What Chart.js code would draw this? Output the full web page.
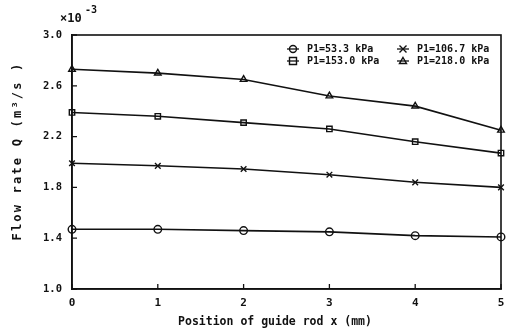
<!DOCTYPE html>
<html><head><meta charset="utf-8">
<script src="https://cdn.jsdelivr.net/npm/chart.js@4/dist/chart.umd.min.js"></script>
<style>html,body{margin:0;padding:0;background:#fff}#wrap{width:507px;height:332px}</style>
</head><body><div id="wrap"><canvas id="c" width="507" height="332"></canvas></div>
<script>
const positions = [0, 1, 2, 3, 4, 5];
const q53 = [1.47, 1.47, 1.46, 1.45, 1.42, 1.41];
const q106 = [1.99, 1.97, 1.945, 1.90, 1.84, 1.80];
const q153 = [2.39, 2.36, 2.31, 2.26, 2.16, 2.07];
const q218 = [2.73, 2.70, 2.65, 2.52, 2.44, 2.25];
const seriesLabels = ['P1=53.3 kPa', 'P1=106.7 kPa', 'P1=153.0 kPa', 'P1=218.0 kPa'];
const yTicks = [1.0, 1.4, 1.8, 2.2, 2.6, 3.0];
const xTicks = [0, 1, 2, 3, 4, 5];

const FONT = '"DejaVu Sans Mono", "Liberation Mono", monospace';
const styles = ['circle', 'crossRot', 'rect', 'triangle'];
const allData = [q53, q106, q153, q218];

const datasets = allData.map((arr, i) => ({
  label: seriesLabels[i],
  data: arr.map((v, j) => ({x: positions[j], y: v})),
  borderColor: '#111', borderWidth: 1.6,
  pointStyle: styles[i], pointRadius: i === 1 ? 4 : 3.8,
  pointBorderColor: '#111', pointBackgroundColor: 'rgba(0,0,0,0)', pointBorderWidth: 1.4,
  tension: 0, clip: false, fill: false
}));

function drawMarker(ctx, style, x, y, r) {
  ctx.save();
  ctx.strokeStyle = '#111'; ctx.lineWidth = 1.4;
  ctx.beginPath();
  if (style === 'circle') { ctx.arc(x, y, r, 0, Math.PI * 2); }
  else if (style === 'rect') { ctx.rect(x - r, y - r, 2 * r, 2 * r); }
  else if (style === 'triangle') { ctx.moveTo(x, y - r); ctx.lineTo(x + r, y + r * 0.7); ctx.lineTo(x - r, y + r * 0.7); ctx.closePath(); }
  else { ctx.moveTo(x - r, y - r); ctx.lineTo(x + r, y + r); ctx.moveTo(x + r, y - r); ctx.lineTo(x - r, y + r); }
  ctx.stroke();
  ctx.restore();
}

const decor = {
  id: 'decor',
  afterDraw(chart) {
    const ctx = chart.ctx, a = chart.chartArea;
    const xs = chart.scales.x, ys = chart.scales.y;
    ctx.save();
    ctx.strokeStyle = '#111'; ctx.lineWidth = 1.6;
    ctx.strokeRect(a.left, a.top, a.right - a.left, a.bottom - a.top);
    ctx.lineWidth = 1.3;
    ctx.beginPath();
    yTicks.forEach(v => { const y = ys.getPixelForValue(v); ctx.moveTo(a.left, y); ctx.lineTo(a.left + 5, y); });
    xTicks.forEach(v => { const x = xs.getPixelForValue(v); ctx.moveTo(x, a.bottom); ctx.lineTo(x, a.bottom - 5); });
    ctx.stroke();

    ctx.fillStyle = '#111';
    ctx.font = 'bold 12px ' + FONT;
    ctx.textAlign = 'left'; ctx.textBaseline = 'middle';
    ctx.fillText('×10', 60, 19);
    ctx.font = 'bold 10px ' + FONT;
    ctx.fillText('-3', 85, 10);

    // y title
    ctx.save();
    ctx.translate(18, 151);
    ctx.rotate(-Math.PI / 2);
    ctx.font = 'bold 12px ' + FONT;
    ctx.letterSpacing = '2.2px';
    ctx.textAlign = 'center'; ctx.textBaseline = 'middle';
    ctx.fillText('Flow rate Q (m³/s )', 0, 0);
    ctx.restore();

    // x title
    ctx.font = 'bold 11.5px ' + FONT;
    ctx.textAlign = 'center'; ctx.textBaseline = 'middle';
    ctx.fillText('Position of guide rod x (mm)', 275, 322);

    // legend
    const order = [[0, 293, 49], [1, 403, 49], [2, 293, 61], [3, 403, 61]];
    ctx.font = 'bold 10px ' + FONT;
    ctx.textAlign = 'left';
    order.forEach(([i, mx, my]) => {
      ctx.beginPath(); ctx.lineWidth = 1.3;
      ctx.moveTo(mx - 6, my); ctx.lineTo(mx + 6, my); ctx.stroke();
      drawMarker(ctx, styles[i], mx, my, 3.5);
      ctx.fillText(seriesLabels[i], mx + 14, my);
    });
    ctx.restore();
  }
};

new Chart(document.getElementById('c'), {
  type: 'line',
  data: { datasets },
  options: {
    responsive: false, animation: false, devicePixelRatio: 1,
    layout: { padding: { top: 35, right: 0, left: 0, bottom: 0 } },
    plugins: { legend: { display: false }, tooltip: { enabled: false } },
    scales: {
      x: {
        type: 'linear', min: 0, max: 5,
        afterBuildTicks: s => { s.ticks = xTicks.map(v => ({value: v})); },
        afterFit: s => { s.height = 43; s.paddingRight = 6; },
        grid: { drawOnChartArea: false, drawTicks: false },
        border: { display: true, color: '#111', width: 1.6 },
        ticks: { padding: 8, color: '#111', font: { family: FONT, weight: 'bold', size: 11 }, callback: v => String(v) }
      },
      y: {
        type: 'linear', min: 1.0, max: 3.0,
        afterBuildTicks: s => { s.ticks = yTicks.map(v => ({value: v})); },
        afterFit: s => { s.width = 72; },
        grid: { drawOnChartArea: false, drawTicks: false },
        border: { display: true, color: '#111', width: 1.6 },
        ticks: { padding: 10, color: '#111', font: { family: FONT, weight: 'bold', size: 10.5 }, callback: v => Number(v).toFixed(1) }
      }
    }
  },
  plugins: [decor]
});
</script>
</body></html>
